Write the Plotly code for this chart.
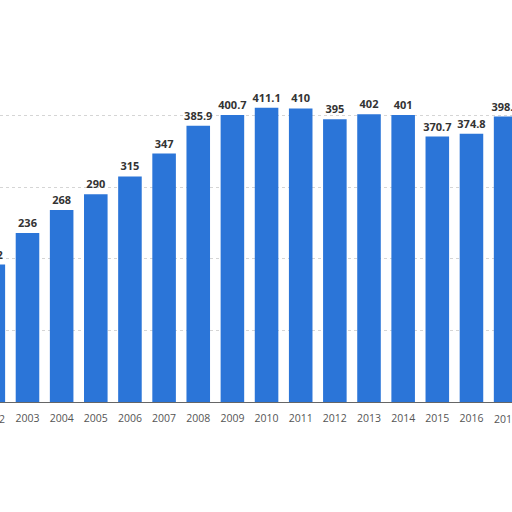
import plotly.graph_objects as go

years = [2002, 2003, 2004, 2005, 2006, 2007, 2008, 2009, 2010, 2011, 2012, 2013, 2014, 2015, 2016, 2017]
values = [192, 236, 268, 290, 315, 347, 385.9, 400.7, 411.1, 410, 395, 402, 401, 370.7, 374.8, 398.6]
labels = [f"{v:g}" for v in values]
tick_vals = [2003 + i for i in range(14)]
tick_text = [str(y) for y in tick_vals]
edge_years = [years[0], years[-1]]
x_range = [2002.195, 2017.187]

fig = go.Figure(go.Bar(
    x=years, y=values, text=labels, textposition="outside",
    constraintext="none",
    marker=dict(color="#2b75d8", line=dict(width=0)),
    textfont=dict(family="Open Sans", size=11, color="#333333", weight="bold"),
    cliponaxis=True, hoverinfo="skip",
))

# edge year labels (partially cut off in the original)
for yr in edge_years:
    fig.add_annotation(x=(yr - x_range[0]) / (x_range[1] - x_range[0]), xref="paper",
                       xanchor="center", y=0, yref="paper", yanchor="top", yshift=-8,
                       text=str(yr), showarrow=False,
                       font=dict(family="Open Sans", size=10.5, color="#555555"))

fig.update_layout(
    width=512, height=512,
    margin=dict(l=0, r=0, t=44, b=110),
    paper_bgcolor="white", plot_bgcolor="white",
    bargap=0.31, showlegend=False,
    xaxis=dict(range=x_range, tickvals=tick_vals, ticktext=tick_text,
               tickfont=dict(family="Open Sans", size=10.5, color="#555555"),
               ticklabelstandoff=6,
               showgrid=False, showline=True, linecolor="#666666", linewidth=1,
               ticks="", zeroline=False),
    yaxis=dict(range=[0, 500], tickvals=[100, 200, 300, 400], showticklabels=False,
               showgrid=True, gridcolor="#d5d5d5", griddash="dot", gridwidth=1,
               zeroline=False),
)

fig.write_html("out.html", config={"displayModeBar": False},
               post_script="document.body.style.margin='0';")
